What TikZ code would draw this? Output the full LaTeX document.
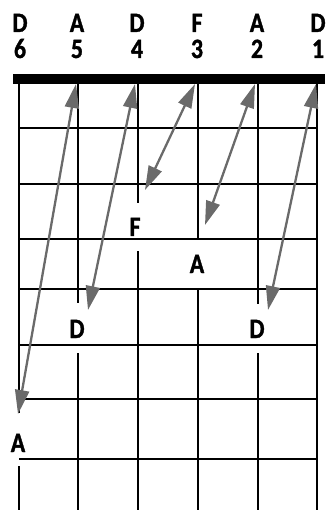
\documentclass[tikz,border=0pt]{standalone}
\usepackage{fontspec}
\setmainfont{Carlito}
\newfontfamily\lblfont[FakeStretch=0.85,FakeBold=1.2]{Carlito}
\usetikzlibrary{arrows.meta}
\definecolor{arrowgray}{HTML}{6A6A6A}
\tikzset{
  lbl/.style={font=\lblfont\bfseries\fontsize{28}{28}\selectfont, inner sep=0pt, anchor=base},
  fretline/.style={line width=2.2pt, black},
  stringline/.style={line width=2.2pt, black},
  dbl/.style={draw=arrowgray, line width=2.3pt,
    {Triangle[length=24pt,width=14pt,fill=arrowgray]}-{Triangle[length=24pt,width=14pt,fill=arrowgray]}}
}
\begin{document}
\begin{tikzpicture}[x=1pt,y=-1pt]
\useasboundingbox (0,0) rectangle (325,510);
% header
\foreach \n/\x/\l/\d in {h6/20/D/6, h5/77/A/5, h4/137/D/4, h3/197/F/3, h2/257/A/2, h1/318/D/1}{
  \node[lbl] (\n) at (\x,32) {\l};
  \node[lbl] (\n d) at (\x,58) {\d};
}
% frets
\foreach \y in {128,184,239,289,345,399,459}{
  \draw[fretline] (19,\y) -- (317,\y);
}
% strings with gaps
\draw[stringline] (19,84) -- (19,413) (19,466) -- (19,510);
\draw[stringline] (78,84) -- (78,303) (78,353) -- (78,510);
\draw[stringline] (138,84) -- (138,203) (138,251) -- (138,510);
\draw[stringline] (198,84) -- (198,239) (198,289) -- (198,510);
\draw[stringline] (258,84) -- (258,304) (258,353) -- (258,510);
\draw[stringline] (317,84) -- (317,510);
% nut
\fill[black] (13,74) rectangle (325,84);
% note labels
\node[lbl] (nF) at (135,236) {F};
\node[lbl] (nA3) at (197,273) {A};
\node[lbl] (nD5) at (77,338) {D};
\node[lbl] (nD2) at (257,338) {D};
\node[lbl] (nA6) at (18,452) {A};
% arrow end points
\coordinate (t5) at (76,84);
\coordinate (t4) at (135,84);
\coordinate (t3) at (195,84);
\coordinate (t2) at (255,84);
\coordinate (t1) at (316,84);
\coordinate (bA6) at (18,414);
\coordinate (bD5) at (88,310);
\coordinate (bF) at (145,190);
\coordinate (bA3) at (205,225);
\coordinate (bD2) at (268,310);
\draw[dbl] (bA6) -- (t5);
\draw[dbl] (bD5) -- (t4);
\draw[dbl] (bF) -- (t3);
\draw[dbl] (bA3) -- (t2);
\draw[dbl] (bD2) -- (t1);
\end{tikzpicture}
\end{document}
